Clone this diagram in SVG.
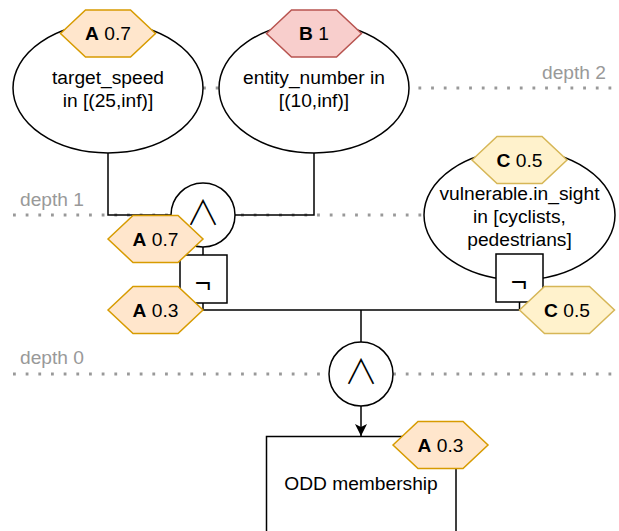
<svg xmlns="http://www.w3.org/2000/svg" width="619" height="531" viewBox="0 0 619 531">
<style>
text{font-family:"Liberation Sans",Arial,sans-serif;font-size:19.2px;fill:#000}
.dep{fill:#999999}
.dot{stroke:#999999;stroke-width:2.8;stroke-dasharray:2.8 9.87;fill:none}
.sh{fill:#fff;stroke:#000;stroke-width:1.5}
.w{fill:none;stroke:#000;stroke-width:1.5}
.hA{fill:#ffe6cc;stroke:#d79b00;stroke-width:1.5}
.hB{fill:#f8cecc;stroke:#b85450;stroke-width:1.5}
.hC{fill:#fff2cc;stroke:#d6b656;stroke-width:1.5}
.hl{text-anchor:middle}
.b{font-weight:bold}
.and{font-family:"Noto Sans CJK SC",sans-serif;font-weight:300;font-size:34px;text-anchor:middle}
.not{font-size:28px;text-anchor:middle}
</style>
<defs>
<polygon id="hex" points="-47.5,0 -22.5,-23.5 22.5,-23.5 47.5,0 22.5,23.5 -22.5,23.5"/>
<marker id="arr" markerWidth="12" markerHeight="14" refX="12" refY="6" orient="auto" markerUnits="userSpaceOnUse" viewBox="0 0 12 12">
<path d="M0,0 L12,6 L0,12 L3,6 Z" fill="#000"/>
</marker>
</defs>
<g id="depths">
<line class="dot" x1="13" y1="88" x2="614" y2="88"/>
<line class="dot" x1="13" y1="215" x2="614" y2="215"/>
<line class="dot" x1="13" y1="374" x2="614" y2="374"/>
<text class="dep" x="542" y="79">depth 2</text>
<text class="dep" x="20" y="206">depth 1</text>
<text class="dep" x="20" y="364">depth 0</text>
</g>
<g id="connectors">
<polyline class="w" points="108,153 108,215 171,215"/>
<polyline class="w" points="314,153 314,215 235,215"/>
<line class="w" x1="203" y1="247" x2="203" y2="255"/>
<polyline class="w" points="203,303 203,310 519.5,310 519.5,302"/>
<line class="w" x1="361" y1="310" x2="361" y2="342"/>
<line class="w" x1="361" y1="406" x2="361" y2="436" marker-end="url(#arr)"/>
</g>
<g id="target_speed">
<ellipse class="sh" cx="108" cy="88" rx="95" ry="65"/>
<text class="hl" x="108" y="84">target_speed</text>
<text class="hl" x="108" y="107">in [(25,inf)]</text>
</g>
<g id="entity_number">
<ellipse class="sh" cx="314" cy="88" rx="95" ry="65"/>
<text class="hl" x="314" y="84">entity_number in</text>
<text class="hl" x="314" y="107">[(10,inf)]</text>
</g>
<g id="vulnerable">
<ellipse class="sh" cx="519.5" cy="215" rx="95.5" ry="65"/>
<text class="hl" x="519.5" y="199.5">vulnerable.in_sight</text>
<text class="hl" x="519.5" y="222.5">in [cyclists,</text>
<text class="hl" x="519.5" y="245.5">pedestrians]</text>
</g>
<g id="and1">
<circle class="sh" cx="203" cy="215" r="32"/>
<text class="and" x="203" y="225">∧</text>
</g>
<g id="not1">
<rect class="sh" x="180" y="255" width="47" height="48"/>
<text class="not" x="203" y="292">¬</text>
</g>
<g id="not2">
<rect class="sh" x="496" y="254" width="47" height="48"/>
<text class="not" x="519" y="291">¬</text>
</g>
<g id="and2">
<circle class="sh" cx="361" cy="374" r="32"/>
<text class="and" x="361" y="384">∧</text>
</g>
<g id="odd">
<rect class="sh" x="266.5" y="436.5" width="189.5" height="120"/>
<text class="hl" x="361" y="490">ODD membership</text>
</g>
<g id="hexA1">
<use href="#hex" class="hA" x="108" y="33.5"/>
<text class="hl" x="108" y="40.2"><tspan class="b">A</tspan> 0.7</text>
</g>
<g id="hexB">
<use href="#hex" class="hB" x="314" y="33.5"/>
<text class="hl" x="314" y="40.2"><tspan class="b">B</tspan> 1</text>
</g>
<g id="hexC1">
<use href="#hex" class="hC" x="519.5" y="160"/>
<text class="hl" x="519.5" y="166.7"><tspan class="b">C</tspan> 0.5</text>
</g>
<g id="hexA2">
<use href="#hex" class="hA" x="155.5" y="239"/>
<text class="hl" x="155.5" y="245.7"><tspan class="b">A</tspan> 0.7</text>
</g>
<g id="hexA3">
<use href="#hex" class="hA" x="155.5" y="310"/>
<text class="hl" x="155.5" y="316.7"><tspan class="b">A</tspan> 0.3</text>
</g>
<g id="hexC2">
<use href="#hex" class="hC" x="567" y="310"/>
<text class="hl" x="567" y="316.7"><tspan class="b">C</tspan> 0.5</text>
</g>
<g id="hexA4">
<use href="#hex" class="hA" x="440.5" y="445"/>
<text class="hl" x="440.5" y="451.7"><tspan class="b">A</tspan> 0.3</text>
</g>
</svg>
